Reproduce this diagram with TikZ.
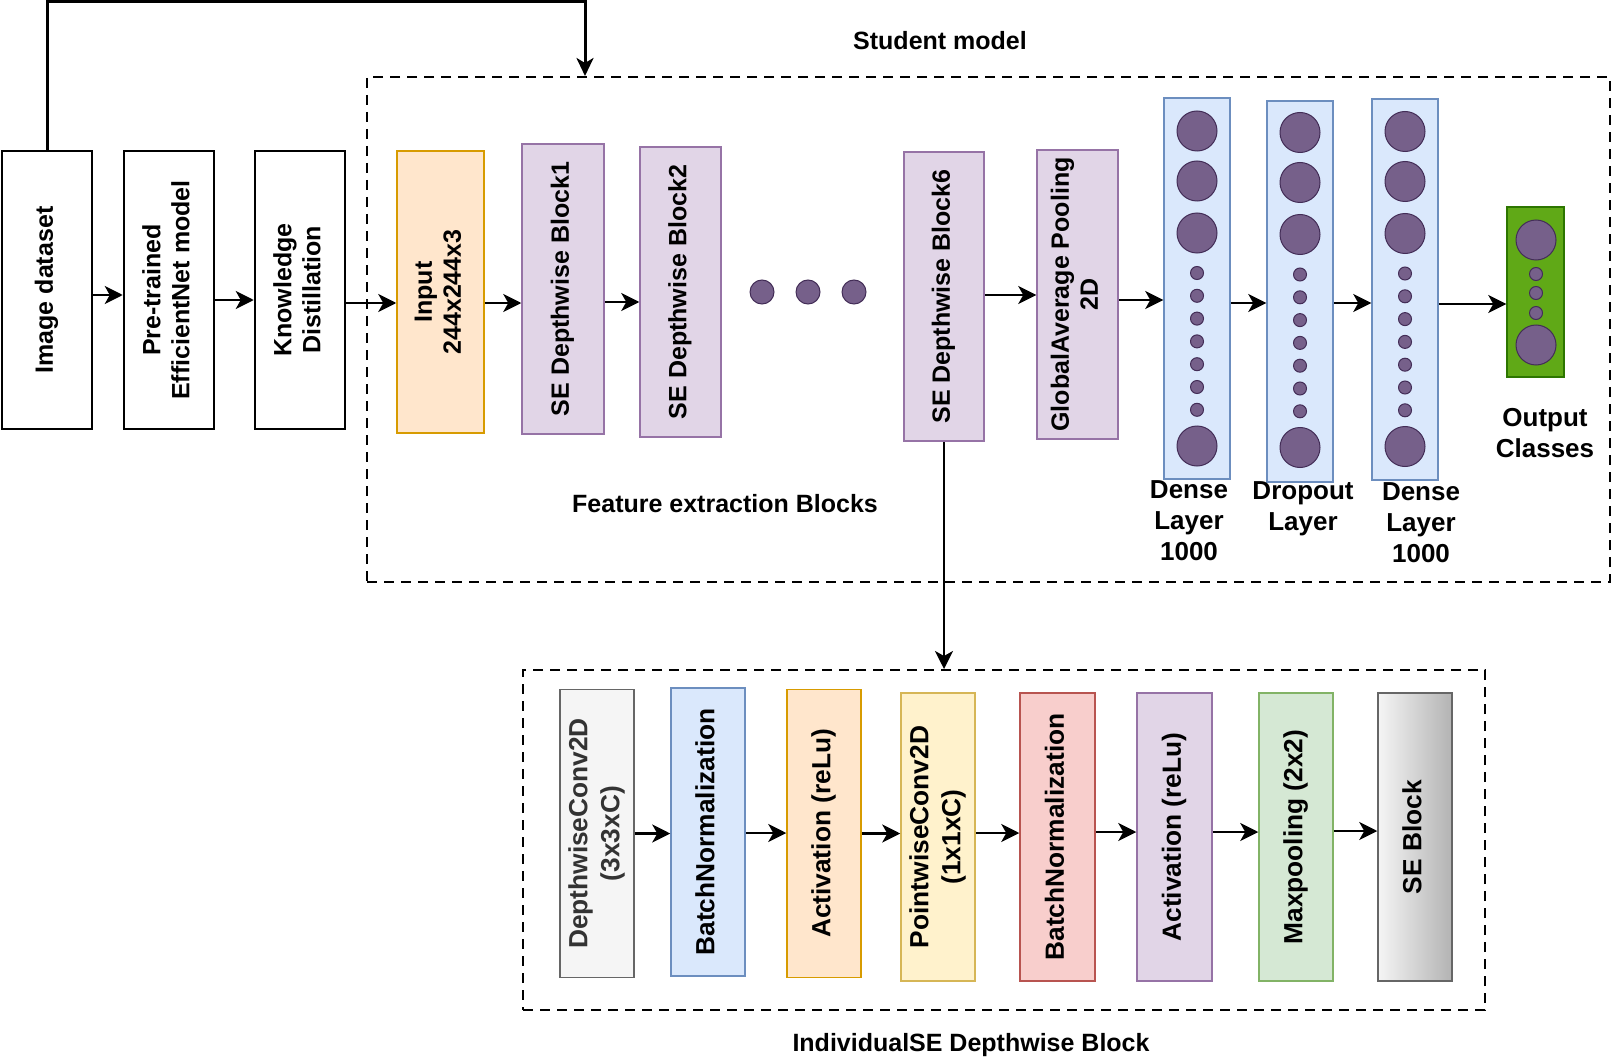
\documentclass[tikz,border=0pt]{standalone}
\usepackage{fontspec}
\setmainfont{Liberation Sans}
\usepackage{graphicx}
\usetikzlibrary{arrows.meta,shapes.geometric}
\definecolor{cgray}{HTML}{F5F5F5}\definecolor{cgrayd}{HTML}{666666}
\definecolor{cblue}{HTML}{DAE8FC}\definecolor{cblued}{HTML}{6C8EBF}
\definecolor{corg}{HTML}{FFE6CC}\definecolor{corgd}{HTML}{D79B00}
\definecolor{cyel}{HTML}{FFF2CC}\definecolor{cyeld}{HTML}{D6B656}
\definecolor{cred}{HTML}{F8CECC}\definecolor{credd}{HTML}{B85450}
\definecolor{cpurl}{HTML}{E1D5E7}\definecolor{cpurld}{HTML}{9673A6}
\definecolor{cgrn}{HTML}{D5E8D4}\definecolor{cgrnd}{HTML}{82B366}
\definecolor{cgout}{HTML}{60A917}\definecolor{cgoutd}{HTML}{2D7600}
\definecolor{cpur}{HTML}{76608A}\definecolor{cpurd}{HTML}{432D57}
\definecolor{cseR}{HTML}{B3B3B3}\definecolor{ctxg}{HTML}{333333}
\newcommand{\fntA}{\fontsize{25}{29}\selectfont\bfseries}
\newcommand{\fntB}{\fontsize{26.3}{32}\selectfont\bfseries}
\newcommand{\fntD}{\fontsize{26}{31}\selectfont\bfseries}
\newcommand{\rtx}[1]{\rotatebox{90}{\begin{tabular}{@{}c@{}}#1\end{tabular}}}
\newcommand{\conn}[3]{\path ([yshift=#3]#1.east) coordinate (#1-out); \draw[arr] (#1-out) -- (#1-out -| #2.west);}
\tikzset{
 arr/.style={line width=2.2pt, -{Stealth[length=18pt,width=18pt,inset=5pt]}},
 topln/.style={line width=3pt, -{Stealth[length=18pt,width=17pt,inset=5pt]}},
 bbox/.style={draw=black, line width=2.5pt, fill=white, inner sep=0pt, minimum width=90, minimum height=278, font=\fntA},
 cbox/.style={line width=1.5pt, inner sep=0pt, font=\fntA},
 lbox/.style={line width=1.5pt, inner sep=0pt, minimum width=74, minimum height=288, font=\fntB},
 dashbox/.style={draw=black, line width=2pt, dash pattern=on 10pt off 7pt, inner sep=0pt},
 bigc/.style={circle, fill=cpur, draw=cpurd, line width=1pt, minimum size=40, inner sep=0pt},
 smc/.style={circle, fill=cpur, draw=cpurd, line width=1pt, minimum size=13, inner sep=0pt},
 lbl/.style={font=\fntA, inner sep=0pt},
 dlbl/.style={font=\fntD, align=center, inner sep=0pt},
}
\begin{document}
\begin{tikzpicture}[x=1pt,y=-1pt]
\useasboundingbox[fill=white] (0,0) rectangle (1613,1059);
% dashed containers
\node[dashbox, minimum width=1243, minimum height=505] (student) at (988.5,329.5) {};
\node[dashbox, minimum width=962, minimum height=340] (lower) at (1004,840) {};
% left boxes
\node[bbox] (img) at (47,290) {\rtx{Image dataset}};
\node[bbox] (pre) at (169,290) {\rtx{Pre-trained\\EfficientNet model}};
\node[bbox] (kd) at (300,290) {\rtx{Knowledge\\Distillation}};
% student model blocks
\node[cbox, fill=corg, draw=corgd, minimum width=87, minimum height=282] (inp) at (440.5,292) {\rtx{Input\\244x244x3}};
\node[cbox, fill=cpurl, draw=cpurld, minimum width=82, minimum height=290] (se1) at (563,289) {\rtx{SE Depthwise Block1}};
\node[cbox, fill=cpurl, draw=cpurld, minimum width=81, minimum height=290] (se2) at (680.5,292) {\rtx{SE Depthwise Block2}};
\node[cbox, fill=cpurl, draw=cpurld, minimum width=80, minimum height=289] (se6) at (944,296.5) {\rtx{SE Depthwise Block6}};
\node[cbox, fill=cpurl, draw=cpurld, minimum width=81, minimum height=289] (gap) at (1077.5,294.5) {\rtx{GlobalAverage Pooling\\2D}};
\node[cbox, fill=cblue, draw=cblued, minimum width=66, minimum height=381] (da) at (1197,288.5) {};
\node[cbox, fill=cblue, draw=cblued, minimum width=66, minimum height=381] (db) at (1300,291.5) {};
\node[cbox, fill=cblue, draw=cblued, minimum width=66, minimum height=381] (dc) at (1405,289.5) {};
\node[cbox, fill=cgout, draw=cgoutd, minimum width=57, minimum height=170] (out) at (1535.5,292) {};
% ellipsis dots
\node[smc, minimum size=24] (e1) at (762,292) {};
\node[smc, minimum size=24] (e2) at (808,292) {};
\node[smc, minimum size=24] (e3) at (854,292) {};
% neurons
\foreach \c/\cx/\dy in {da/1197/0, db/1300/1.5, dc/1405/0.5} {
  \foreach \yy [count=\i] in {131,181,233,446} { \node[bigc] (\c-b\i) at (\cx,{\yy+\dy}) {}; }
  \foreach \i in {0,...,6} { \node[smc] (\c-s\i) at (\cx,{273+22.8*\i+\dy}) {}; }
}
\node[bigc] (o-b1) at (1536,240) {};
\node[smc] (o-s1) at (1536,274) {};
\node[smc] (o-s2) at (1536,293) {};
\node[smc] (o-s3) at (1536,313) {};
\node[bigc] (o-b2) at (1536,345) {};
% labels
\node[lbl] (studentlbl) at (940,41) {Student model};
\node[lbl] (felbl) at (725,504) {Feature extraction Blocks};
\node[lbl] (indlbl) at (971,1045) {IndividualSE Depthwise Block};
\node[dlbl] (dalbl) at (1189,521) {Dense\\Layer\\1000};
\node[dlbl] (dblbl) at (1303,509) {Dropout\\Layer};
\node[dlbl] (dclbl) at (1421,523) {Dense\\Layer\\1000};
\node[dlbl] (outlbl) at (1545,433) {Output\\Classes};
% lower blocks
\node[lbox, fill=cgray, draw=cgrayd, text=ctxg] (dw) at (597,833.5) {\rtx{DepthwiseConv2D\\(3x3xC)}};
\node[lbox, fill=cblue, draw=cblued] (bn1) at (708,832) {\rtx{BatchNormalization}};
\node[lbox, fill=corg, draw=corgd] (act1) at (824,833.5) {\rtx{Activation (reLu)}};
\node[lbox, fill=cyel, draw=cyeld] (pw) at (938,837) {\rtx{PointwiseConv2D\\(1x1xC)}};
\node[lbox, fill=cred, draw=credd, minimum width=75] (bn2) at (1057.5,837) {\rtx{BatchNormalization}};
\node[lbox, fill=cpurl, draw=cpurld, minimum width=75] (act2) at (1174.5,837) {\rtx{Activation (reLu)}};
\node[lbox, fill=cgrn, draw=cgrnd] (mp) at (1296,837) {\rtx{Maxpooling (2x2)}};
\node[lbox, left color=cgray, right color=cseR, draw=cgrayd] (seb) at (1415,837) {\rtx{SE Block}};
% connectors
\coordinate (topc) at (585,2);
\draw[topln] (img.north) |- (topc) -- (topc |- student.north);
\conn{img}{pre}{-5pt}
\conn{pre}{kd}{-10pt}
\conn{kd}{inp}{-13pt}
\conn{inp}{se1}{-11pt}
\conn{se1}{se2}{-13pt}
\conn{se6}{gap}{1.5pt}
\conn{gap}{da}{-5.5pt}
\conn{da}{db}{-14.5pt}
\conn{db}{dc}{-11.5pt}
\conn{dc}{out}{-14.5pt}
\draw[arr] (se6.south) -- (se6.south |- lower.north);
\conn{dw}{bn1}{0pt}
\conn{bn1}{act1}{-1pt}
\conn{act1}{pw}{0pt}
\conn{pw}{bn2}{4pt}
\conn{bn2}{act2}{5pt}
\conn{act2}{mp}{5pt}
\conn{mp}{seb}{6pt}
\end{tikzpicture}
\end{document}
